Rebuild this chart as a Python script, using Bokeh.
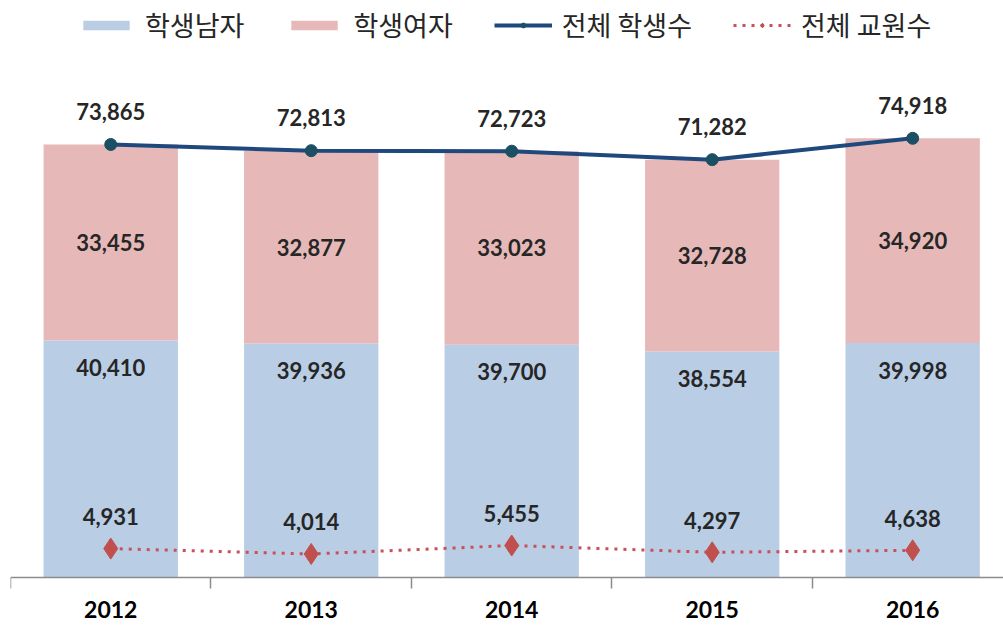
from bokeh.plotting import figure
from bokeh.models import Range1d, FixedTicker, Legend, LegendItem, ColumnDataSource
from bokeh.core.properties import value
from bokeh.embed import file_html
from bokeh.resources import INLINE

years = ["2012", "2013", "2014", "2015", "2016"]
male = [40410, 39936, 39700, 38554, 39998]
female = [33455, 32877, 33023, 32728, 34920]
total = [73865, 72813, 72723, 71282, 74918]
teachers = [4931, 4014, 5455, 4297, 4638]

xs = [i + 0.5 for i in range(len(years))]

src = ColumnDataSource(dict(
    x=xs, male=male, female=female, total=total, teachers=teachers,
    fmid=[m + f / 2 for m, f in zip(male, female)],
    male_t=[f"{v:,}" for v in male],
    female_t=[f"{v:,}" for v in female],
    total_t=[f"{v:,}" for v in total],
    teach_t=[f"{v:,}" for v in teachers],
))

p = figure(width=1003, height=627, output_backend="svg", toolbar_location=None,
           x_range=Range1d(0, 4.953), y_range=Range1d(-8530, 98430),
           min_border_left=10, min_border_right=0, min_border_top=0, min_border_bottom=0)
p.outline_line_color = None
p.grid.visible = False
p.yaxis.visible = False
p.background_fill_color = "white"

MALE_C = "#b9cde5"
FEMALE_C = "#e6b9b8"
LINE_C = "#1f497d"
DOT_C = "#c8505a"

bars = p.vbar_stack(["male", "female"], x="x", width=0.67, source=src,
                    color=[MALE_C, FEMALE_C], line_color=None)

l1 = p.line("x", "total", source=src, line_color=LINE_C, line_width=4)
m1 = p.scatter("x", "total", source=src, marker="circle", size=12,
               fill_color="#1b4f63", line_color="#1b4f63")
l2 = p.line("x", "teachers", source=src, line_color=DOT_C, line_width=3, line_dash="3 6")
m2 = p.scatter("x", "teachers", source=src, marker="diamond", size=21,
               fill_color="#c0504d", line_color="#c0504d")

num_font = value("Lato")
common = dict(text_font=num_font, text_font_size="22px", text_font_style="bold",
              text_color="#262626", text_align="center", text_baseline="middle", source=src)
p.text("x", "total", text="total_t", y_offset=-33, **common)
p.text("x", "fmid", text="female_t", **common)
p.text("x", "male", text="male_t", y_offset=27, **common)
p.text("x", "teachers", text="teach_t", y_offset=-32, **common)

ax = p.xaxis[0]
ax.fixed_location = 0
ax.ticker = FixedTicker(ticks=xs, minor_ticks=list(range(len(years) + 1)))
ax.major_label_overrides = {x: y for x, y in zip(xs, years)}
ax.axis_line_color = "#8c8c8c"
ax.axis_line_width = 1.5
ax.major_tick_line_color = None
ax.major_tick_in = 0
ax.major_tick_out = 0
ax.minor_tick_in = 0
ax.minor_tick_out = 11
ax.minor_tick_line_color = "#8c8c8c"
ax.minor_tick_line_width = 1.5
ax.major_label_standoff = 13
ax.major_label_text_font = "Lato"
ax.major_label_text_font_style = "bold"
ax.major_label_text_font_size = "23px"
ax.major_label_text_color = "#000000"

legend = Legend(items=[
    LegendItem(label="학생남자", renderers=[bars[0]]),
    LegendItem(label="학생여자", renderers=[bars[1]]),
    LegendItem(label="전체 학생수", renderers=[l1, m1]),
    LegendItem(label="전체 교원수", renderers=[l2, m2]),
], location=(67, 583), orientation="horizontal", glyph_width=58, glyph_height=12,
    label_standoff=10, spacing=41, padding=0, margin=0, border_line_color=None,
    background_fill_alpha=0, label_text_font="Noto Sans CJK KR",
    label_text_font_size="27px", label_text_color="#262626")
p.add_layout(legend)

open("out.html", "w").write(file_html(p, INLINE))
